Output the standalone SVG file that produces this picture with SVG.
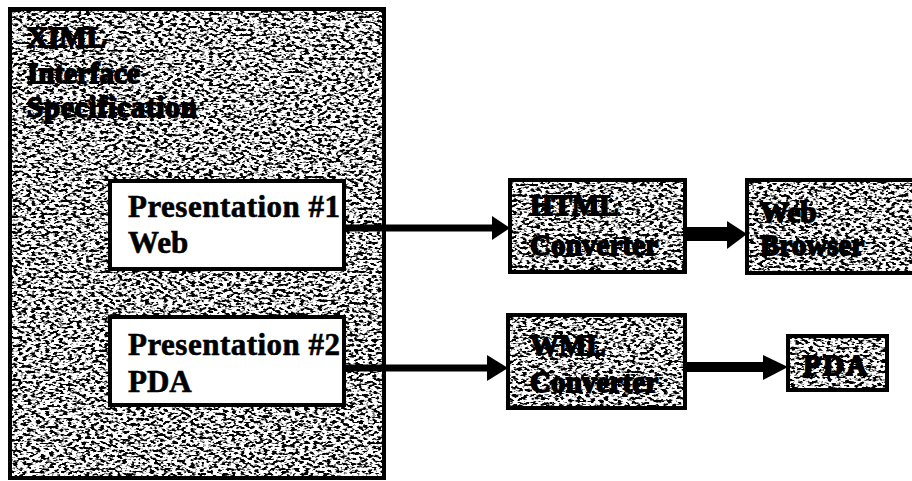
<svg xmlns="http://www.w3.org/2000/svg" width="912" height="481" viewBox="0 0 912 481">
<style>
.tex{fill:#ffffff;stroke:#000;stroke-width:4}
.box{fill:#ffffff;stroke:#000;stroke-width:4}
.t{font-family:"Liberation Serif","Times New Roman",serif;font-weight:bold;fill:#000}
.big{font-size:31px;stroke:#000;stroke-width:0.6}
.mid{font-size:29px;stroke:#000;stroke-width:1.8}
.ln{stroke:#000;fill:none}
</style>
<defs>
<filter id="grain" x="0" y="0" width="100%" height="100%" filterUnits="objectBoundingBox">
<feTurbulence type="fractalNoise" baseFrequency="0.22 0.38" numOctaves="2" seed="7" result="n"/>
<feColorMatrix in="n" type="matrix" values="0 0 0 0 0  0 0 0 0 0  0 0 0 0 0  -8 0 0 0 4.2" result="dots"/>
<feComposite in="dots" in2="SourceGraphic" operator="in"/>
</filter>
</defs>
<rect width="912" height="481" fill="#fff"/>
<g id="spec">
<rect class="tex" x="10" y="9" width="374" height="469"/>
<rect x="12" y="11" width="370" height="465" fill="#000" filter="url(#grain)"/>
<text class="t mid" x="27" y="47" font-size="30">XIML</text>
<text class="t mid" x="27" y="83">Interface</text>
<text class="t mid" x="27" y="117" textLength="170">Specification</text>
</g>
<g id="pres1">
<rect class="box" x="110" y="181" width="234" height="88"/>
<text class="t big" x="128" y="217" textLength="212">Presentation #1</text>
<text class="t big" x="128" y="253">Web</text>
</g>
<g id="pres2">
<rect class="box" x="110" y="317" width="234" height="88"/>
<text class="t big" x="128" y="355" textLength="212">Presentation #2</text>
<text class="t big" x="128" y="392">PDA</text>
</g>
<g id="html">
<rect class="tex" x="510" y="180" width="175" height="92"/>
<rect x="512" y="182" width="171" height="88" fill="#000" filter="url(#grain)"/>
<text class="t mid" x="530" y="215">HTML</text>
<text class="t mid" x="530" y="255" textLength="128">Converter</text>
</g>
<g id="browser">
<rect class="tex" x="747" y="180" width="175" height="93"/>
<rect x="749" y="182" width="171" height="89" fill="#000" filter="url(#grain)"/>
<text class="t mid" x="760" y="222">Web</text>
<text class="t mid" x="760" y="255">Browser</text>
</g>
<g id="wml">
<rect class="tex" x="508" y="315" width="177" height="93"/>
<rect x="510" y="317" width="173" height="89" fill="#000" filter="url(#grain)"/>
<text class="t mid" x="530" y="355">WML</text>
<text class="t mid" x="530" y="392" textLength="128">Converter</text>
</g>
<g id="pda">
<rect class="tex" x="788" y="336" width="99" height="54"/>
<rect x="790" y="338" width="95" height="50" fill="#000" filter="url(#grain)"/>
<text class="t mid" x="803" y="375" textLength="64">PDA</text>
</g>
<g id="connectors">
<line class="ln" x1="344" y1="228" x2="495" y2="228" stroke-width="7"/>
<polygon points="492,216 510,228 492,240" fill="#000"/>
<line class="ln" x1="685" y1="234" x2="730" y2="234" stroke-width="14"/>
<polygon points="727,221 747,234 727,249" fill="#000"/>
<line class="ln" x1="344" y1="368" x2="490" y2="368" stroke-width="7"/>
<polygon points="487,355 508,368 487,381" fill="#000"/>
<line class="ln" x1="685" y1="367" x2="766" y2="367" stroke-width="10"/>
<polygon points="763,355 788,367 763,380" fill="#000"/>
</g>
</svg>
